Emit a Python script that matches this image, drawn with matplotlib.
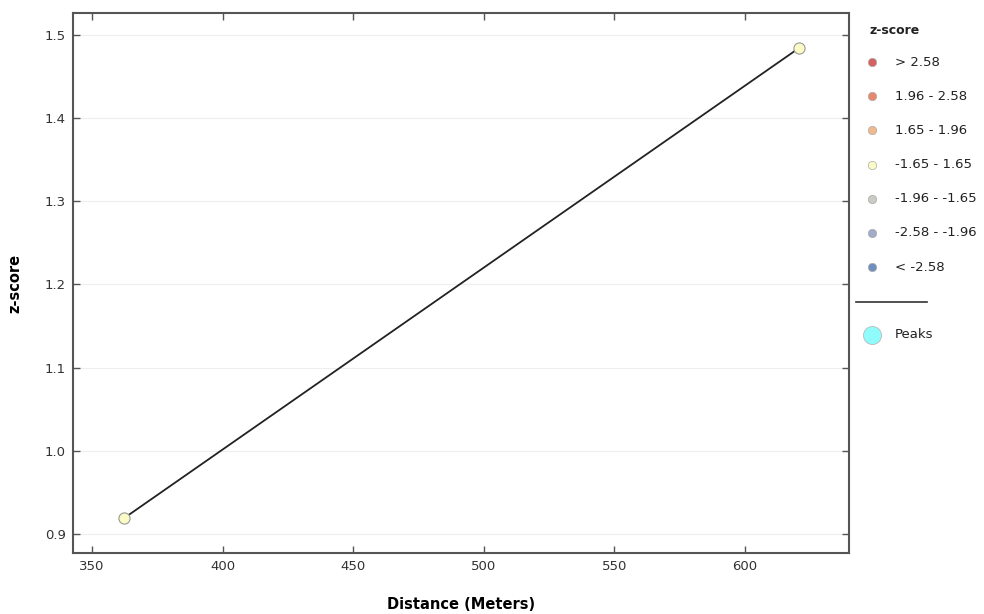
import matplotlib
matplotlib.use('Agg')
import matplotlib.pyplot as plt
from matplotlib.lines import Line2D

# distance / z-score pairs
distance = [362.3, 620.5]
zscore = [0.919, 1.484]

# z-score classes for the legend
bin_labels = ['> 2.58', '1.96 - 2.58', '1.65 - 1.96', '-1.65 - 1.65',
              '-1.96 - -1.65', '-2.58 - -1.96', '< -2.58']
bin_colors = ['#d46262', '#e8896f', '#f2b98e', '#fbfbc6',
              '#c9ccc4', '#9fadc8', '#6f8fc0']
peak_color = '#8ffbfb'

fig = plt.figure(figsize=(9.84, 6.14), dpi=100)
ax = fig.add_axes([73 / 984, 61 / 614, 776 / 984, 540 / 614])

ax.plot(distance, zscore, color='#222222', lw=1.3, zorder=2)
ax.scatter(distance, zscore, s=65, color=bin_colors[3], edgecolor='#999999',
           linewidth=0.8, zorder=3)

ax.set_xlim(342.7, 639.8)
ax.set_ylim(0.877, 1.5265)
ax.set_xticks([350, 400, 450, 500, 550, 600])
ax.set_yticks([0.9, 1.0, 1.1, 1.2, 1.3, 1.4, 1.5])
ax.yaxis.grid(True, color='#eeeeee', lw=0.8)
ax.set_axisbelow(True)
ax.tick_params(direction='in', top=True, right=True, length=5, width=1,
               color='#555555', labelsize=9.5, labelcolor='#333333', pad=5)
for s in ax.spines.values():
    s.set_color('#555555')
    s.set_linewidth(1.5)

ax.set_xlabel('Distance (Meters)', fontsize=10.5, fontweight='bold', labelpad=17)
ax.set_ylabel('z-score', fontsize=10.5, fontweight='bold', labelpad=16)

# legend drawn in pixel coordinates on the right side
def fx(px):
    return px / 984

def fy(py):
    return 1 - py / 614

fig.text(fx(870), fy(31), 'z-score', fontsize=9, fontweight='bold',
         va='center', ha='left', color='#222222')
for i, (lab, col) in enumerate(zip(bin_labels, bin_colors)):
    y = 62 + i * 34.2
    fig.add_artist(Line2D([fx(872)], [fy(y)], marker='o', markersize=6,
                          markerfacecolor=col, markeredgecolor='#aaaaaa',
                          markeredgewidth=0.5, linestyle='none'))
    fig.text(fx(895), fy(y), lab, fontsize=9.5, va='center', ha='left',
             color='#222222')

fig.add_artist(Line2D([fx(856), fx(927)], [fy(302), fy(302)], color='#333333',
                      lw=1.2))
fig.add_artist(Line2D([fx(872)], [fy(335)], marker='o', markersize=13,
                      markerfacecolor=peak_color, markeredgecolor='#bbbbbb',
                      markeredgewidth=0.6, linestyle='none'))
fig.text(fx(895), fy(335), 'Peaks', fontsize=9.5, va='center', ha='left',
         color='#222222')

fig.savefig('out.png', dpi=100)
